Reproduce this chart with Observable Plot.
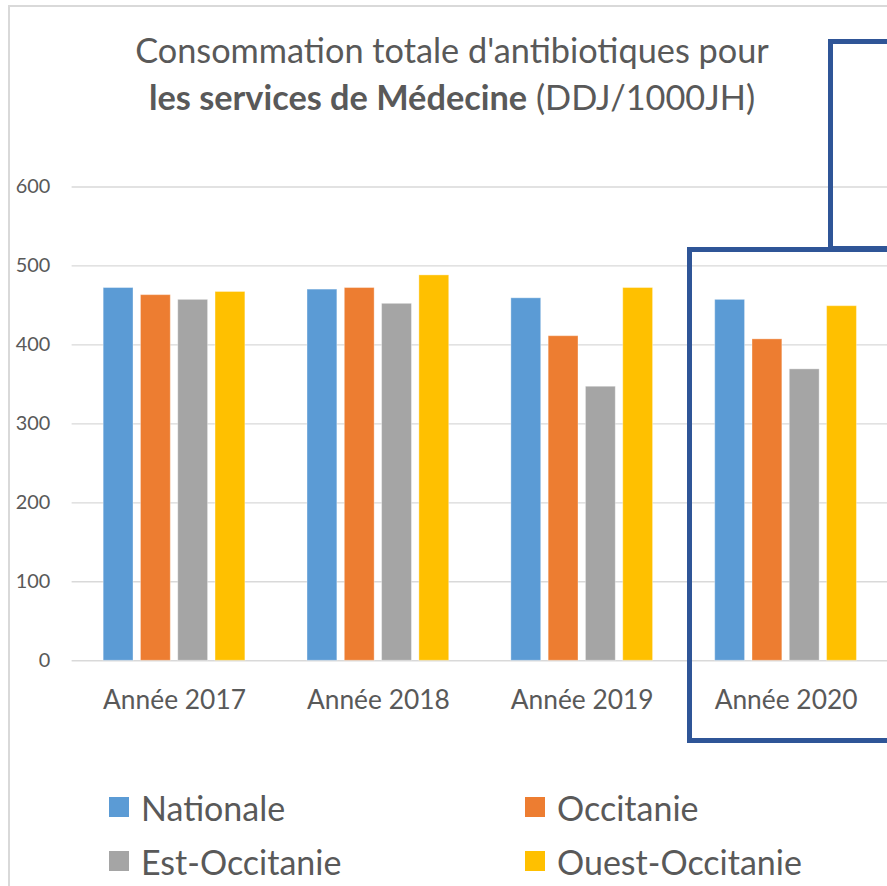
<!DOCTYPE html>
<html>
<head>
<meta charset="utf-8">
<script src="https://cdn.jsdelivr.net/npm/d3@7"></script>
<script src="https://cdn.jsdelivr.net/npm/@observablehq/plot@0.6"></script>
<style>
  html, body { margin: 0; padding: 0; background: #fff; }
  body { width: 887px; height: 886px; overflow: hidden; position: relative; font-family: Lato, "Open Sans", sans-serif; color: #595959; }
  #frame { position: absolute; left: 8px; top: 5px; width: 1000px; height: 1000px; border-left: 2px solid #d9d9d9; border-top: 2px solid #d9d9d9; }
  #chart { position: absolute; left: 0; top: 0; }
  #title { position: absolute; left: 0; top: 26px; width: 904px; text-align: center; font-size: 34.3px; line-height: 47px; color: #595959; }
  #title b { font-weight: 700; }
  .legend-item { position: absolute; display: flex; align-items: center; font-size: 34px; color: #595959; height: 40px; }
  .legend-item span.sw { display: inline-block; width: 20px; height: 20px; margin-right: 12px; }
  .box { position: absolute; box-sizing: border-box; border: 5px solid #2F5597; }
  g[aria-label^="x-axis"] text { font-size: 26.5px; }
  g[aria-label^="y-axis"] text { font-size: 20px; }
</style>
</head>
<body>
<div id="frame"></div>
<div id="chart"></div>
<div id="title">Consommation totale d'antibiotiques pour<br><b>les services de Médecine</b> (DDJ/1000JH)</div>
<div id="legend"></div>
<div class="box" style="left:828px; top:39px; width:300px; height:212px;"></div>
<div class="box" style="left:686.5px; top:246.5px; width:400px; height:496px;"></div>
<script>
const years = ["Année 2017", "Année 2018", "Année 2019", "Année 2020"];
const series = ["Nationale", "Occitanie", "Est-Occitanie", "Ouest-Occitanie"];
const nationale = [472, 470, 459, 457];
const occitanie = [463, 472, 411, 407];
const estOccitanie = [457, 452, 347, 369];
const ouestOccitanie = [467, 488, 472, 449];
const yTicks = [0, 100, 200, 300, 400, 500, 600];
const colors = ["#5B9BD5", "#ED7D31", "#A5A5A5", "#FFC000"];

const valuesBySeries = [nationale, occitanie, estOccitanie, ouestOccitanie];
const data = [];
series.forEach((s, i) => years.forEach((y, j) => data.push({year: y, series: s, value: valuesBySeries[i][j]})));

const step = 37.5;
const barMarks = series.map((s, i) =>
  Plot.barY(data.filter(d => d.series === s), {
    x: "year", y: "value", fill: "series", dx: (i - 1.5) * step,
    stroke: "#ffffff", strokeOpacity: 0.35, strokeWidth: 1
  })
);

const chart = Plot.plot({
  width: 892,
  height: 760,
  marginLeft: 72,
  marginRight: 0,
  marginTop: 187.5,
  marginBottom: 96,
  style: { color: "#595959", fontFamily: "Lato, 'Open Sans', sans-serif", background: "transparent" },
  x: { domain: years, paddingInner: 0.854, paddingOuter: 0.427, tickSize: 0, tickPadding: 30, label: null },
  y: { domain: [0, 600], ticks: yTicks, tickSize: 0, tickPadding: 22, label: null },
  color: { domain: series, range: colors },
  marks: [
    Plot.ruleY(yTicks, { stroke: "#d9d9d9", strokeWidth: 1.4 }),
    ...barMarks
  ]
});
document.getElementById("chart").appendChild(chart);

const legend = document.getElementById("legend");
const legendPos = [
  {left: 109, top: 787}, {left: 525, top: 787},
  {left: 109, top: 841}, {left: 525, top: 841}
];
series.forEach((s, i) => {
  const el = document.createElement("div");
  el.className = "legend-item";
  el.style.left = legendPos[i].left + "px";
  el.style.top = legendPos[i].top + "px";
  el.innerHTML = `<span class="sw" style="background:${colors[i]}"></span>${s}`;
  legend.appendChild(el);
});
</script>
</body>
</html>
